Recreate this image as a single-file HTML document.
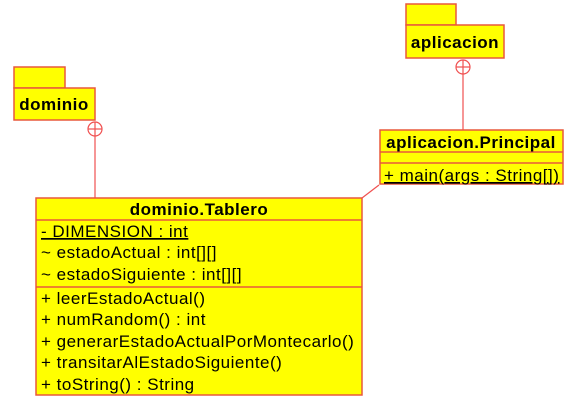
<!DOCTYPE html>
<html><head><style>
body{margin:0;background:#fff;}
svg text{font-family:"Liberation Sans",Arial,sans-serif;fill:#000;}
</style></head><body>
<svg width="571" height="408" xmlns="http://www.w3.org/2000/svg">
<g stroke="#e8583c" stroke-width="1.5" fill="#ffff00">
<rect x="14" y="67" width="51" height="21"/>
<rect x="14" y="88" width="81" height="32"/>
<rect x="406" y="4" width="50" height="21"/>
<rect x="406" y="25" width="98" height="33"/>
<rect x="380" y="130" width="183" height="54"/>
<line x1="380" y1="152" x2="563" y2="152"/>
<line x1="380" y1="163" x2="563" y2="163"/>
<rect x="36" y="198" width="326" height="197"/>
<line x1="36" y1="220" x2="362" y2="220"/>
<line x1="36" y1="287" x2="362" y2="287"/>
</g>
<g stroke="#f05050" stroke-width="1.2" fill="none">
<line x1="95" y1="136" x2="95" y2="198"/>
<circle cx="95" cy="129" r="7"/>
<line x1="88" y1="129" x2="102" y2="129"/><line x1="95" y1="122" x2="95" y2="136"/>
<line x1="463" y1="74" x2="463" y2="130"/>
<circle cx="463" cy="67" r="7"/>
<line x1="456" y1="67" x2="470" y2="67"/><line x1="463" y1="60" x2="463" y2="74"/>
<line x1="379" y1="185" x2="362" y2="198"/>
</g>
<g font-size="17" letter-spacing="0.5">
<text x="54" y="110" font-weight="bold" text-anchor="middle">dominio</text>
<text x="455" y="48" font-weight="bold" text-anchor="middle">aplicacion</text>
<text x="471" y="148" font-weight="bold" text-anchor="middle">aplicacion.Principal</text>
<text x="384" y="181" text-decoration="underline">+ main(args : String[])</text>
<text x="199" y="215" font-weight="bold" text-anchor="middle">dominio.Tablero</text>
<text x="41" y="237" text-decoration="underline">- DIMENSION : int</text>
<text x="41" y="258">~ estadoActual : int[][]</text>
<text x="41" y="280">~ estadoSiguiente : int[][]</text>
<text x="41" y="304">+ leerEstadoActual()</text>
<text x="41" y="325">+ numRandom() : int</text>
<text x="41" y="347">+ generarEstadoActualPorMontecarlo()</text>
<text x="41" y="368">+ transitarAlEstadoSiguiente()</text>
<text x="41" y="390">+ toString() : String</text>
</g>
</svg>
</body></html>
